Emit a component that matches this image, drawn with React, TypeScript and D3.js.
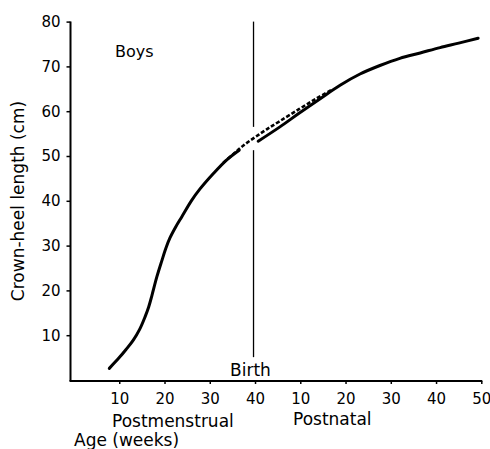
import { useEffect, useRef } from "react";
import * as d3 from "d3";

const WIDTH = 490;
const HEIGHT = 449;

// x in postmenstrual weeks (birth = 40)
const fetalWeeks = [7.8, 10, 11.5, 13.1, 14.5, 15.7, 16.5, 17.2, 18.3, 19.4, 20.3, 21.2, 22.5, 23.8, 26, 27.8, 30.8, 33.7, 36.5];
const fetalLength = [2.6, 5.0, 6.8, 8.9, 11.3, 14.1, 16.3, 18.8, 23.0, 26.6, 29.4, 31.7, 34.2, 36.4, 40.1, 42.6, 46.1, 49.1, 51.3];

const dashedWeeks = [33, 35.4, 37.5, 40, 42.5, 45.5, 49.8, 53.5, 57];
const dashedLength = [48.5, 50.6, 52.4, 54.2, 55.9, 57.8, 60.5, 62.8, 64.8];

const postnatalWeeks = [40.7, 45.5, 49.8, 54.4, 58.8, 63.2, 67.6, 72, 76.5, 80.9, 85, 89.3];
const postnatalLength = [53.3, 56.5, 59.6, 62.8, 65.8, 68.3, 70.2, 71.8, 73.0, 74.2, 75.2, 76.3];

const yTicks = [10, 20, 30, 40, 50, 60, 70, 80];
const xTicks = [10, 20, 30, 40, 50, 60, 70, 80, 90];
const xTickLabels = ["10", "20", "30", "40", "10", "20", "30", "40", "50"];

const BIRTH = 40;
const birthLineTop = 80;
const birthLineBottom = 5.1;
const birthLineGap = [51.3, 56.5];

const FONT = "DejaVu Sans, sans-serif";

export default function App() {
  const svgRef = useRef<SVGSVGElement | null>(null);

  useEffect(() => {
    if (!svgRef.current) return;
    const svg = d3.select(svgRef.current);
    svg.selectAll("*").remove();

    const x = d3.scaleLinear().domain([0, 90]).range([74, 481.3]);
    const y = d3.scaleLinear().domain([0, 80]).range([380, 21.6]);

    const line = d3
      .line<[number, number]>()
      .x((d) => x(d[0]))
      .y((d) => y(d[1]))
      .curve(d3.curveCatmullRom.alpha(0.5));

    const zip = (a: number[], b: number[]) => a.map((v, i) => [v, b[i]] as [number, number]);

    // Y axis
    const yAxis = svg
      .append("g")
      .attr("transform", `translate(70.5,0)`)
      .call(d3.axisLeft(y).tickValues(yTicks).tickSize(4).tickPadding(6).tickSizeOuter(0));
    yAxis.select(".domain").attr("stroke", "#000").attr("stroke-width", 2).attr("d", `M0,${y(80)}V${y(0) + 1}`);
    yAxis.selectAll("line").attr("stroke", "#000").attr("stroke-width", 1.5);
    yAxis.selectAll("text").attr("font-family", FONT).attr("font-size", 15).attr("fill", "#000");

    // X axis
    const xAxis = svg
      .append("g")
      .attr("transform", `translate(0,${y(0) + 1})`)
      .call(
        d3
          .axisBottom(x)
          .tickValues(xTicks)
          .tickSize(3)
          .tickPadding(9)
          .tickFormat((_d, i) => xTickLabels[i]),
      );
    xAxis.select(".domain").attr("stroke", "#000").attr("stroke-width", 2).attr("d", `M69.5,0H${x(90) + 1}`);
    xAxis.selectAll("line").attr("stroke", "#000").attr("stroke-width", 1.5);
    xAxis.selectAll("text").attr("font-family", FONT).attr("font-size", 15).attr("fill", "#000");

    // Birth line (broken where the curves cross)
    const bx = x(BIRTH) - 1.5;
    svg
      .append("line")
      .attr("x1", bx).attr("x2", bx)
      .attr("y1", y(birthLineTop)).attr("y2", y(birthLineGap[1]))
      .attr("stroke", "#000").attr("stroke-width", 1.3);
    svg
      .append("line")
      .attr("x1", bx).attr("x2", bx)
      .attr("y1", y(birthLineGap[0])).attr("y2", y(birthLineBottom))
      .attr("stroke", "#000").attr("stroke-width", 1.3);

    // Curves
    svg
      .append("path")
      .attr("d", line(zip(fetalWeeks, fetalLength)))
      .attr("fill", "none").attr("stroke", "#000").attr("stroke-width", 3).attr("stroke-linecap", "round");
    svg
      .append("path")
      .attr("d", line(zip(dashedWeeks, dashedLength)))
      .attr("fill", "none").attr("stroke", "#000").attr("stroke-width", 2.6).attr("stroke-dasharray", "4,2");
    svg
      .append("path")
      .attr("d", line(zip(postnatalWeeks, postnatalLength)))
      .attr("fill", "none").attr("stroke", "#000").attr("stroke-width", 3).attr("stroke-linecap", "round");

    const label = (txt: string, tx: number, ty: number, size: number, anchor = "start") =>
      svg
        .append("text")
        .attr("x", tx).attr("y", ty)
        .attr("font-family", FONT).attr("font-size", size)
        .attr("text-anchor", anchor).attr("fill", "#000")
        .text(txt);

    label("Boys", 115, 57, 16);
    label("Birth", 230, 376, 17);
    label("Postmenstrual", 112, 427, 17);
    label("Postnatal", 293, 425, 17);
    label("Age (weeks)", 74, 446, 17);

    svg
      .append("text")
      .attr("transform", `translate(24,201) rotate(-90)`)
      .attr("font-family", FONT).attr("font-size", 17)
      .attr("text-anchor", "middle").attr("fill", "#000")
      .text("Crown-heel length (cm)");
  }, []);

  return (
    <svg
      ref={svgRef}
      width={WIDTH}
      height={HEIGHT}
      style={{ position: "absolute", left: 0, top: 0, background: "#fff" }}
    />
  );
}
